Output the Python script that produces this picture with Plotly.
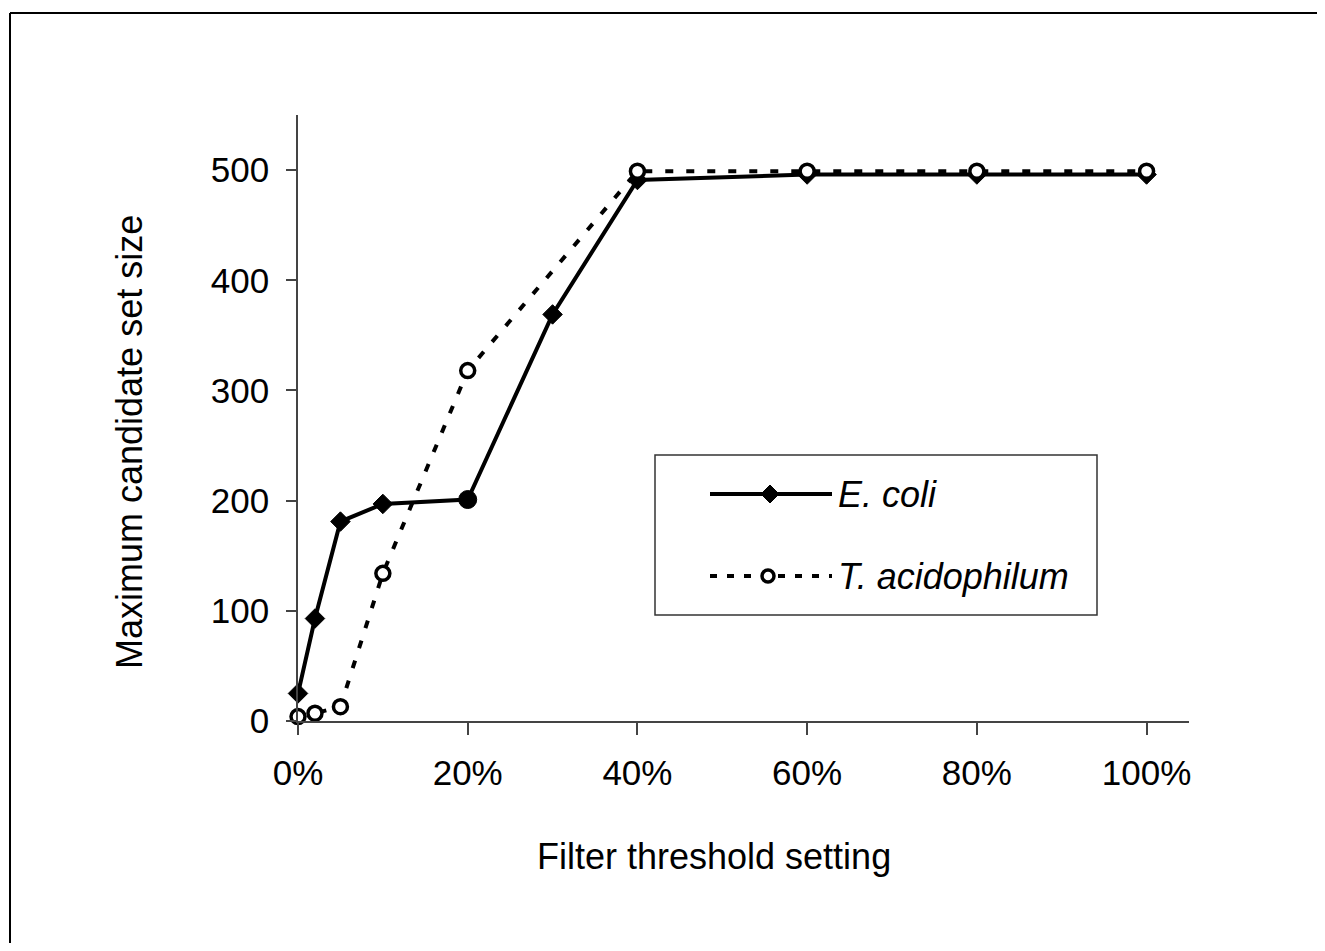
import plotly.graph_objects as go

# ---- data ----
ecoli_x = [0, 2, 5, 10, 20, 30, 40, 60, 80, 100]
ecoli_y = [25, 93, 181, 197, 201, 369, 491, 496, 496, 496]
tacid_x = [0, 2, 5, 10, 20, 40, 60, 80, 100]
tacid_y = [4, 7, 13, 134, 318, 499, 499, 499, 499]
x_ticks = [0, 20, 40, 60, 80, 100]
x_tick_labels = ["0%", "20%", "40%", "60%", "80%", "100%"]
y_ticks = [0, 100, 200, 300, 400, 500]
series_names = ["E. coli", "T. acidophilum"]

OFF = 8  # browser body margin
W, H = 1325 - 2 * OFF, 951 - 2 * OFF
# plot area in screen pixels
L, R, T, B = 298, 1189, 115, 721
FONT = "Liberation Sans, Arial, sans-serif"
FS = 35
FS_TITLE = 36


def px(x):
    return (x - L) / (R - L)


def py(y):
    return (B - y) / (B - T)


ecoli_symbols = ["diamond"] * len(ecoli_x)
ecoli_symbols[4] = "circle"
ecoli_sizes = [15] * len(ecoli_x)
ecoli_sizes[4] = 18

fig = go.Figure()
fig.add_trace(go.Scatter(
    x=ecoli_x, y=ecoli_y, mode="lines+markers", name=series_names[0],
    line=dict(color="black", width=4),
    marker=dict(symbol=ecoli_symbols, size=ecoli_sizes, color="black", opacity=1,
                line=dict(color="black", width=1)),
    opacity=1, cliponaxis=False, showlegend=False,
))
fig.add_trace(go.Scatter(
    x=tacid_x, y=tacid_y, mode="lines+markers", name=series_names[1],
    line=dict(color="black", width=4, dash="8px,13px"),
    marker=dict(symbol="circle", size=14, color="white", opacity=1,
                line=dict(color="black", width=3.5)),
    opacity=1, cliponaxis=False, showlegend=False,
))

shapes = []
# outer frame (only top and left edges are visible in the picture)
shapes.append(dict(type="line", xref="paper", yref="paper",
                   x0=px(10), x1=px(1330), y0=py(13), y1=py(13),
                   line=dict(color="black", width=2)))
shapes.append(dict(type="line", xref="paper", yref="paper",
                   x0=px(10), x1=px(10), y0=py(13), y1=py(960),
                   line=dict(color="black", width=2)))
# legend box
shapes.append(dict(type="rect", xref="paper", yref="paper",
                   x0=px(655), x1=px(1097), y0=py(615), y1=py(455),
                   line=dict(color="#333", width=1.5), fillcolor="white",
                   layer="above"))
ROW1, ROW2 = 494, 576
# legend samples
shapes.append(dict(type="line", xref="paper", yref="paper",
                   x0=px(710), x1=px(832), y0=py(ROW1), y1=py(ROW1),
                   line=dict(color="black", width=4), layer="above"))
shapes.append(dict(type="line", xref="paper", yref="paper",
                   x0=px(710), x1=px(832), y0=py(ROW2), y1=py(ROW2),
                   line=dict(color="black", width=4, dash="7px,10px"),
                   layer="above"))
# diamond
cx, cy, d = 770, ROW1, 9
shapes.append(dict(type="path", xref="paper", yref="paper",
                   path=f"M {px(cx)} {py(cy - d)} L {px(cx + d)} {py(cy)} L {px(cx)} {py(cy + d)} L {px(cx - d)} {py(cy)} Z",
                   fillcolor="black", line=dict(color="black", width=1),
                   layer="above"))
# circle (white fill to cover dash)
cx, cy, r = 768, ROW2, 6
shapes.append(dict(type="circle", xref="paper", yref="paper",
                   x0=px(cx - r), x1=px(cx + r), y0=py(cy + r), y1=py(cy - r),
                   fillcolor="white", line=dict(color="black", width=3.5),
                   layer="above"))

annotations = [
    dict(text="<i>E. coli</i>", x=px(836), y=py(ROW1), xref="paper", yref="paper",
         xanchor="left", yanchor="middle", showarrow=False,
         font=dict(family=FONT, size=FS_TITLE, color="black")),
    dict(text="<i>T. acidophilum</i>", x=px(836), y=py(ROW2), xref="paper", yref="paper",
         xanchor="left", yanchor="middle", showarrow=False,
         font=dict(family=FONT, size=FS_TITLE, color="black")),
    dict(text="Filter threshold setting", x=px(714), y=py(856), xref="paper", yref="paper",
         xanchor="center", yanchor="middle", showarrow=False,
         font=dict(family=FONT, size=FS_TITLE, color="black")),
    dict(text="Maximum candidate set size", x=px(129), y=py(442), xref="paper", yref="paper",
         xanchor="center", yanchor="middle", showarrow=False, textangle=-90,
         font=dict(family=FONT, size=FS_TITLE, color="black")),
]

fig.update_layout(
    width=W, height=H,
    margin=dict(l=L - OFF, r=W - (R - OFF), t=T - OFF, b=H - (B - OFF), pad=0),
    paper_bgcolor="white", plot_bgcolor="white",
    font=dict(family=FONT, size=FS, color="black"),
    shapes=shapes, annotations=annotations,
    showlegend=False,
)
fig.update_xaxes(
    range=[0, 105], tickvals=x_ticks, ticktext=x_tick_labels,
    showgrid=False, zeroline=False, showline=True, linecolor="#444", linewidth=1.5,
    ticks="outside", ticklen=12, tickwidth=1.5, tickcolor="#444",
    ticklabelstandoff=8,
    tickfont=dict(family=FONT, size=FS, color="black"),
)
fig.update_yaxes(
    range=[0, 550], tickvals=y_ticks,
    showgrid=False, zeroline=False, showline=True, linecolor="#444", linewidth=1.5,
    ticks="outside", ticklen=10, tickwidth=1.5, tickcolor="#444",
    ticklabelstandoff=10,
    tickfont=dict(family=FONT, size=FS, color="black"),
)

fig.write_html("out.html", config={"displayModeBar": False},
               post_script="document.body.style.overflow='hidden';")
